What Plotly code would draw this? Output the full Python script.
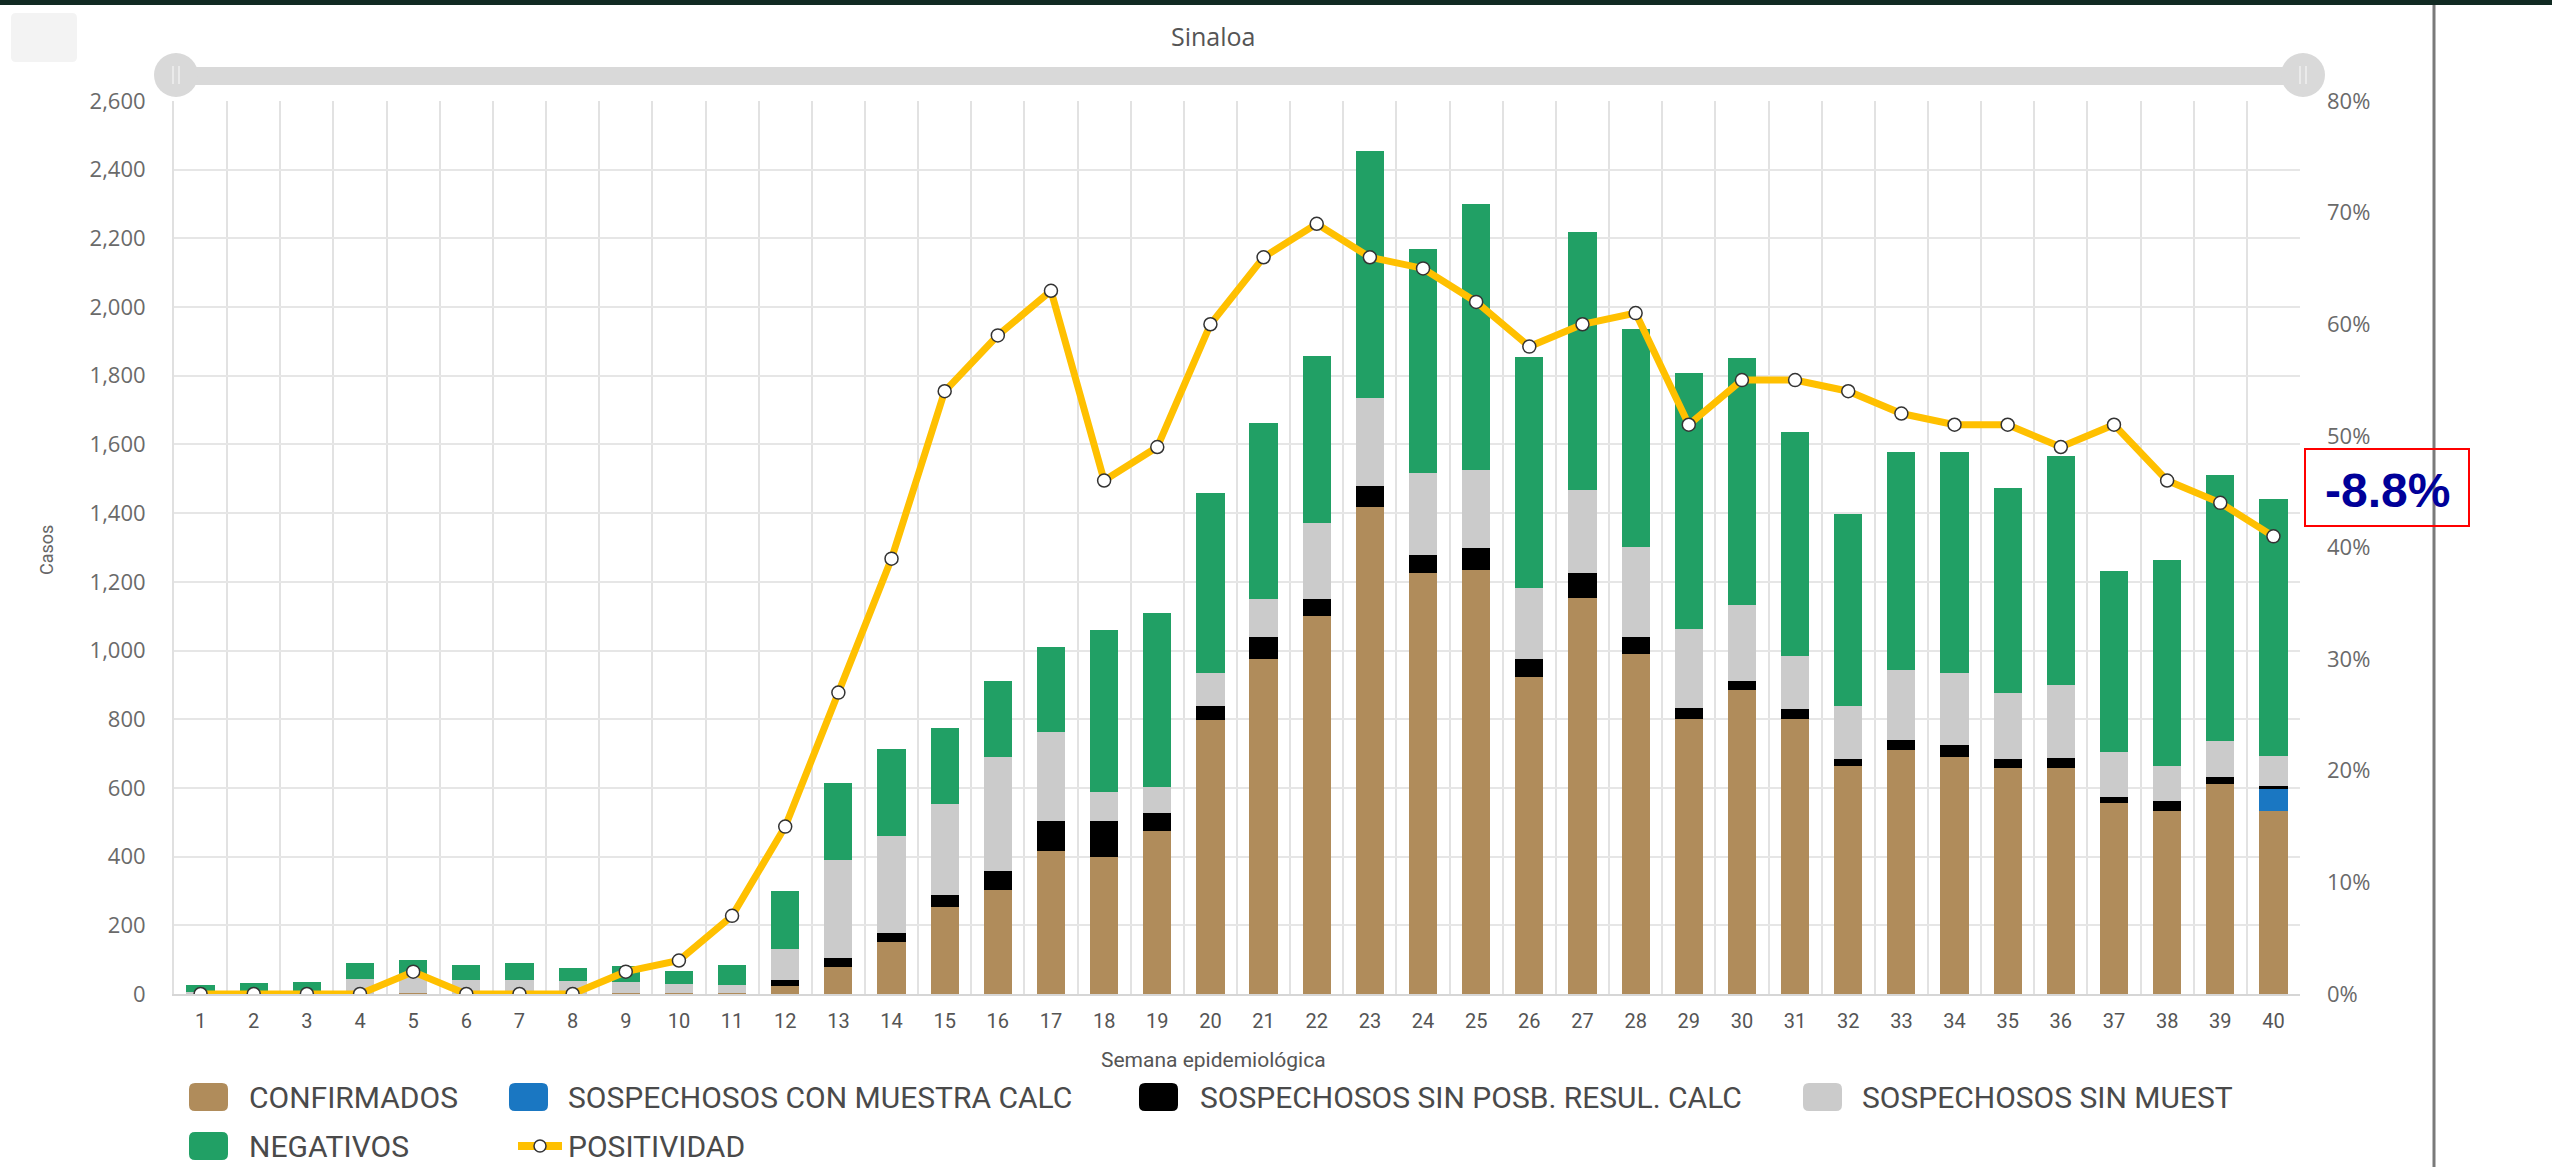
import plotly.graph_objects as go

# Datos: casos por semana epidemiológica (Sinaloa)
semanas = list(range(1, 41))

confirmados = [1, 0, 0, 0, 3, 0, 0, 0, 2, 2,
               4, 23, 78, 150, 253, 304, 415, 400, 476, 797,
               976, 1101, 1417, 1225, 1234, 923, 1152, 989, 801, 886,
               801, 663, 711, 689, 659, 657, 555, 533, 611, 533]
sosp_con_muestra = [0, 0, 0, 0, 0, 0, 0, 0, 0, 0,
                    0, 0, 0, 0, 0, 0, 0, 0, 0, 0,
                    0, 0, 0, 0, 0, 0, 0, 0, 0, 0,
                    0, 0, 0, 0, 0, 0, 0, 0, 0, 65]
sosp_sin_posb = [0, 0, 0, 0, 0, 0, 0, 0, 0, 0,
                 0, 17, 28, 28, 35, 55, 89, 104, 50, 41,
                 63, 50, 62, 53, 65, 52, 73, 49, 32, 26,
                 29, 20, 30, 35, 26, 30, 20, 30, 20, 9]
sosp_sin_muest = [5, 8, 10, 45, 50, 41, 41, 39, 34, 26,
                  22, 92, 283, 283, 265, 330, 258, 83, 77, 97,
                  112, 221, 256, 240, 227, 208, 241, 264, 229, 222,
                  154, 156, 202, 212, 191, 213, 130, 100, 106, 86]
negativos = [20, 25, 26, 44, 46, 43, 50, 37, 46, 39,
             57, 167, 225, 251, 221, 223, 247, 472, 505, 525,
             512, 485, 719, 652, 775, 673, 753, 634, 745, 717,
             653, 559, 634, 641, 597, 667, 528, 601, 774, 748]
# Positividad en %
positividad = [0, 0, 0, 0, 2, 0, 0, 0, 2, 3,
               7, 15, 27, 39, 54, 59, 63, 46, 49, 60,
               66, 69, 66, 65, 62, 58, 60, 61, 51, 55,
               55, 54, 52, 51, 51, 49, 51, 46, 44, 41]

nombres = ['CONFIRMADOS', 'SOSPECHOSOS CON MUESTRA CALC',
           'SOSPECHOSOS SIN POSB. RESUL. CALC', 'SOSPECHOSOS SIN MUEST',
           'NEGATIVOS', 'POSITIVIDAD']
colores = ['#b08c5b', '#1a77c2', '#000000', '#cbcbcb', '#21a065', '#ffc000']

ticks_casos = list(range(0, 2601, 200))
ticks_pct = list(range(0, 81, 10))

# Geometría en píxeles
W, H = 2552, 1167
ML, MR, MT, MB = 174, 252, 101, 173
PW, PH = W - ML - MR, H - MT - MB


def px(x):
    return (x - ML) / PW


def py(y):
    return (H - MB - y) / PH


def rrect(x0, y0, x1, y1, r):
    pts = [
        ('M', [(x0 + r, y0)]), ('L', [(x1 - r, y0)]), ('Q', [(x1, y0), (x1, y0 + r)]),
        ('L', [(x1, y1 - r)]), ('Q', [(x1, y1), (x1 - r, y1)]), ('L', [(x0 + r, y1)]),
        ('Q', [(x0, y1), (x0, y1 - r)]), ('L', [(x0, y0 + r)]), ('Q', [(x0, y0), (x0 + r, y0)]),
    ]
    s = ''
    for cmd, ps in pts:
        s += cmd + ' '.join(f'{px(a):.5f},{py(b):.5f}' for a, b in ps) + ' '
    return s + 'Z'


def texto(x, y, t, size, color='#4a4a4a', family='Roboto', xanchor='center', **kw):
    return dict(xref='paper', yref='paper', x=px(x), y=py(y), text=t, showarrow=False,
                xanchor=xanchor, yanchor='middle',
                font=dict(family=family, size=size, color=color), **kw)


fig = go.Figure()

series = [confirmados, sosp_con_muestra, sosp_sin_posb, sosp_sin_muest, negativos]
for nombre, color, valores in zip(nombres[:5], colores[:5], series):
    fig.add_trace(go.Bar(
        x=semanas, y=valores, name=nombre,
        marker=dict(color=color, line=dict(width=0)),
    ))

fig.add_trace(go.Scatter(
    x=semanas, y=positividad, name=nombres[5], yaxis='y2',
    mode='lines+markers',
    line=dict(color=colores[5], width=7),
    marker=dict(size=13, color='white', line=dict(color='#333333', width=1.5)),
))

shapes = []
annotations = []

# Franja superior y línea vertical derecha
shapes.append(dict(type='rect', xref='paper', yref='paper', x0=px(0), x1=px(W), y0=py(0), y1=py(5),
                   fillcolor='#112a22', line=dict(width=0), layer='above'))
shapes.append(dict(type='line', xref='paper', yref='paper', x0=px(2434), x1=px(2434), y0=py(5), y1=py(H),
                   line=dict(color='#7a7a7a', width=3)))
# Botón gris arriba a la izquierda
shapes.append(dict(type='path', xref='paper', yref='paper', path=rrect(11, 13, 77, 62, 5),
                   fillcolor='#f3f3f3', line=dict(width=0)))
# Barra deslizante
shapes.append(dict(type='rect', xref='paper', yref='paper', x0=px(176), x1=px(2303), y0=py(67), y1=py(85),
                   fillcolor='#d9d9d9', line=dict(width=0)))
for cx in [176, 2303]:
    shapes.append(dict(type='circle', xref='paper', yref='paper',
                       x0=px(cx - 22), x1=px(cx + 22), y0=py(75 - 22), y1=py(75 + 22),
                       fillcolor='#d9d9d9', line=dict(width=0)))
    for dx in [-3, 3]:
        shapes.append(dict(type='line', xref='paper', yref='paper',
                           x0=px(cx + dx), x1=px(cx + dx), y0=py(66), y1=py(84),
                           line=dict(color='#efefef', width=1.5)))

# Caja de variación
shapes.append(dict(type='rect', xref='paper', yref='paper', x0=px(2305), x1=px(2469), y0=py(449), y1=py(526),
                   line=dict(color='#ff0000', width=2)))
annotations.append(texto(2387, 490, '<b>-8.8%</b>', 48, color='#000099', family='Liberation Sans, Arial'))

# Títulos
annotations.append(texto(1213, 36, 'Sinaloa', 25, color='#555555', family='Open Sans'))
annotations.append(texto(1213, 1060, 'Semana epidemiológica', 21, color='#555555'))
annotations.append(texto(46, 550, 'Casos', 18, color='#666666', textangle=-90))

# Leyenda
leyenda = [(189, 247, 1097), (509, 566, 1097), (1139, 1198, 1097), (1803, 1860, 1097),
           (189, 247, 1146), (518, 566, 1146)]
for i, (nombre, color) in enumerate(zip(nombres, colores)):
    sx, tx, ly = leyenda[i]
    if i < 5:
        shapes.append(dict(type='path', xref='paper', yref='paper',
                           path=rrect(sx, ly - 14, sx + 39, ly + 14, 6),
                           fillcolor=color, line=dict(width=0)))
    else:
        shapes.append(dict(type='line', xref='paper', yref='paper', x0=px(sx), x1=px(sx + 44),
                           y0=py(ly), y1=py(ly), line=dict(color=color, width=8)))
        shapes.append(dict(type='circle', xref='paper', yref='paper',
                           x0=px(sx + 16), x1=px(sx + 28), y0=py(ly - 6), y1=py(ly + 6),
                           fillcolor='white', line=dict(color='#333333', width=1.5)))
    annotations.append(texto(tx, ly, nombre, 30, xanchor='left'))

fig.update_layout(
    width=W, height=H,
    margin=dict(l=ML, r=MR, t=MT, b=MB),
    barmode='stack', bargap=0.47,
    showlegend=False,
    plot_bgcolor='white', paper_bgcolor='white',
    xaxis=dict(
        range=[0.5, 40.5],
        tickmode='array', tickvals=semanas, ticktext=[str(s) for s in semanas],
        showgrid=False, zeroline=False, ticks='',
        minor=dict(tickvals=[s - 0.5 for s in semanas] + [40.5], showgrid=True,
                   gridcolor='#e2e2e2', gridwidth=2),
        showline=True, linecolor='#d6d6d6', linewidth=2,
        tickfont=dict(family='Roboto', size=20, color='#555555'),
        ticklabelstandoff=8,
    ),
    yaxis=dict(
        range=[0, 2600], tickmode='array', tickvals=ticks_casos,
        ticktext=[f'{v:,}' for v in ticks_casos],
        showgrid=True, gridcolor='#e6e6e6', gridwidth=2, zeroline=False,
        showline=True, linecolor='#e0e0e0', linewidth=2,
        tickfont=dict(family='Open Sans', size=22, color='#6a6a6a'),
        ticklabelstandoff=22,
    ),
    yaxis2=dict(
        range=[0, 80], overlaying='y', side='right',
        tickmode='array', tickvals=ticks_pct, ticktext=[f'{v}%' for v in ticks_pct],
        showgrid=False, zeroline=False,
        tickfont=dict(family='Open Sans', size=22, color='#6a6a6a'),
        ticklabelstandoff=26,
    ),
    shapes=shapes,
    annotations=annotations,
)

fig.write_html("out.html", config={'displayModeBar': False},
               post_script="document.body.style.margin='0';")
